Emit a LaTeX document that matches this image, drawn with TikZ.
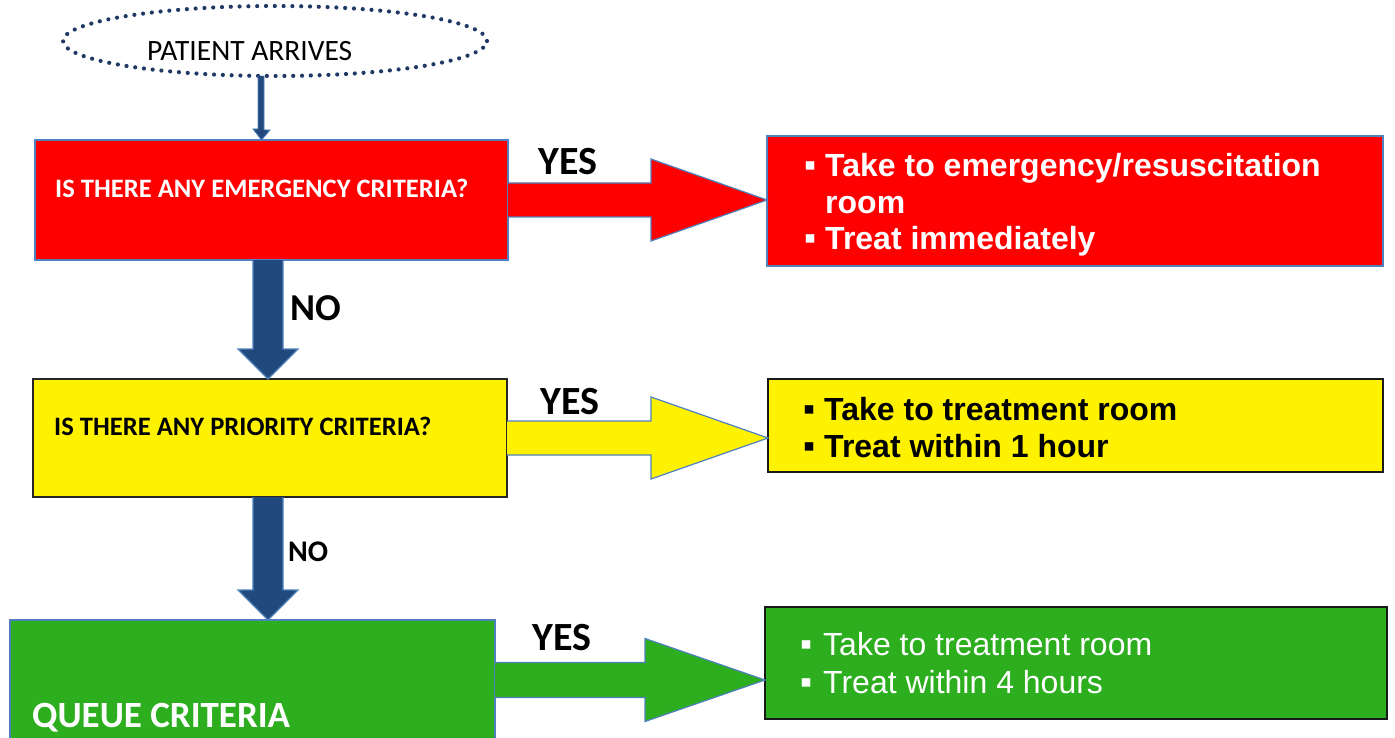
\documentclass[tikz,border=0pt]{standalone}
\usepackage{fontspec}
\setmainfont{Carlito}
\newfontfamily\arialfont{Liberation Sans}
\usetikzlibrary{shapes.geometric,calc}

\definecolor{arrowblue}{RGB}{33,73,125}
\definecolor{edgeblue}{RGB}{79,129,189}
\definecolor{dotblue}{RGB}{32,56,100}
\definecolor{queuegreen}{RGB}{45,174,31}

\newcommand\sqbullet{\makebox[21pt][l]{\fontsize{34}{34}\selectfont ▪}}

\tikzset{
  flowbox/.style={rectangle, anchor=north west, inner sep=0pt, outer sep=0pt},
  qtext/.style={anchor=base west, inner sep=0pt, font=\fontsize{26.6}{30}\selectfont\bfseries},
  answer/.style={anchor=base west, inner sep=0pt, font=\fontsize{40}{44}\selectfont\bfseries},
  listline/.style={anchor=base west, inner sep=0pt, font=\arialfont\fontsize{32}{36}\selectfont},
  listbold/.style={listline, font=\arialfont\bfseries\fontsize{32}{36}\selectfont},
  blockarrow/.style={draw=edgeblue, line width=1.2pt, line join=miter},
}

\begin{document}
\begin{tikzpicture}[x=1pt, y=-1pt]
  \useasboundingbox (0,0) rectangle (1395,738);

  % start
  \node[ellipse, draw=dotblue, line width=4.2pt, dash pattern=on 0pt off 8.8pt, line cap=round,
        minimum width=424, minimum height=70, inner sep=0pt, outer sep=0pt] (arrive) at (275,41) {};
  \node[anchor=base west, inner sep=0pt, font=\fontsize{29.5}{32}\selectfont] (arriveText) at (147,61) {PATIENT ARRIVES};

  % questions
  \node[flowbox, fill=red, draw=edgeblue, line width=1.2pt, minimum width=473, minimum height=120] (qEmerg) at (35,140) {};
  \node[flowbox, fill=yellow, draw=black!85, line width=1.2pt, minimum width=474, minimum height=118] (qPrio) at (33,379) {};
  \node[flowbox, fill=queuegreen, draw=edgeblue, line width=1.2pt, minimum width=485, minimum height=120] (qQueue) at (10,620) {};

  % answers
  \node[flowbox, fill=red, draw=edgeblue, line width=2pt, minimum width=616, minimum height=130] (aEmerg) at (767,136) {};
  \node[flowbox, fill=yellow, draw=black!90, line width=2pt, minimum width=615, minimum height=93] (aPrio) at (768,379) {};
  \node[flowbox, fill=queuegreen, draw=black!90, line width=2pt, minimum width=622, minimum height=112] (aQueue) at (765,607) {};

  % arrows down
  \filldraw[blockarrow, line width=0.8pt, fill=arrowblue] ($(arrive.south)+(-17,0)$) -- ++(0,53) -- ++(-5,0)
    -- ($(qEmerg.north)+(-10,0)$) -- ++(8.5,-10) -- ++(-6,0) -- ($(arrive.south)+(-11,0)$);
  \filldraw[blockarrow, fill=arrowblue] ($(qEmerg.south)+(-18.5,0)$) -- ++(0,89) -- ++(-15,0)
    -- ($(qPrio.north)+(-2,0)$) -- ++(30,-30) -- ++(-15,0) -- ($(qEmerg.south)+(11.5,0)$);
  \filldraw[blockarrow, fill=arrowblue] ($(qPrio.south)+(-17,0)$) -- ++(0,93) -- ++(-15,0)
    -- ($(qQueue.north)+(15.5,0)$) -- ++(30,-30) -- ++(-15,0) -- ($(qPrio.south)+(13,0)$);

  % arrows across
  \filldraw[blockarrow, fill=red] ($(qEmerg.east)+(0,-17)$) -- ++(143,0) -- ++(0,-24)
    -- (aEmerg.west |- qEmerg.east) -- ++(-116,41) -- ++(0,-24) -- ($(qEmerg.east)+(0,17)$);
  \filldraw[blockarrow, fill=yellow] ($(qPrio.east)+(0,-17)$) -- ++(144,0) -- ++(0,-24)
    -- (aPrio.west |- qPrio.east) -- ++(-117,41) -- ++(0,-24) -- ($(qPrio.east)+(0,17)$);
  \filldraw[blockarrow, fill=queuegreen] ($(qQueue.east)+(0,-17.5)$) -- ++(150,0) -- ++(0,-24)
    -- (aQueue.west |- qQueue.east) -- ++(-120,41.5) -- ++(0,-24) -- ($(qQueue.east)+(0,17.5)$);

  % labels
  \node[qtext, text=white] (qEmergText) at (55,197.5) {IS THERE ANY EMERGENCY CRITERIA?};
  \node[qtext] (qPrioText) at (54,435.5) {IS THERE ANY PRIORITY CRITERIA?};
  \node[qtext, text=white, font=\fontsize{37}{40}\selectfont\bfseries] (qQueueText) at (32,727) {QUEUE CRITERIA};

  \node[answer] (yesEmerg) at (538,175) {YES};
  \node[answer] (yesPrio) at (540,414) {YES};
  \node[answer] (yesQueue) at (532,650) {YES};
  \node[answer, font=\fontsize{38}{40}\selectfont\bfseries] (noEmerg) at (290,320) {NO};
  \node[answer, font=\fontsize{30}{32}\selectfont\bfseries] (noPrio) at (288,561) {NO};

  \node[listbold, text=white] (aEmergA) at (804,177) {\sqbullet Take to emergency/resuscitation};
  \node[listbold, text=white] (aEmergB) at (825,213.5) {room};
  \node[listbold, text=white] (aEmergC) at (804,250) {\sqbullet Treat immediately};
  \node[listbold] (aPrioA) at (803,420) {\sqbullet Take to treatment room};
  \node[listbold] (aPrioB) at (803,457) {\sqbullet Treat within 1 hour};
  \node[listline, text=white] (aQueueA) at (800,655) {\makebox[23pt][l]{\fontsize{34}{34}\selectfont ▪}Take to treatment room};
  \node[listline, text=white] (aQueueB) at (800,693) {\makebox[23pt][l]{\fontsize{34}{34}\selectfont ▪}Treat within 4 hours};
\end{tikzpicture}
\end{document}
